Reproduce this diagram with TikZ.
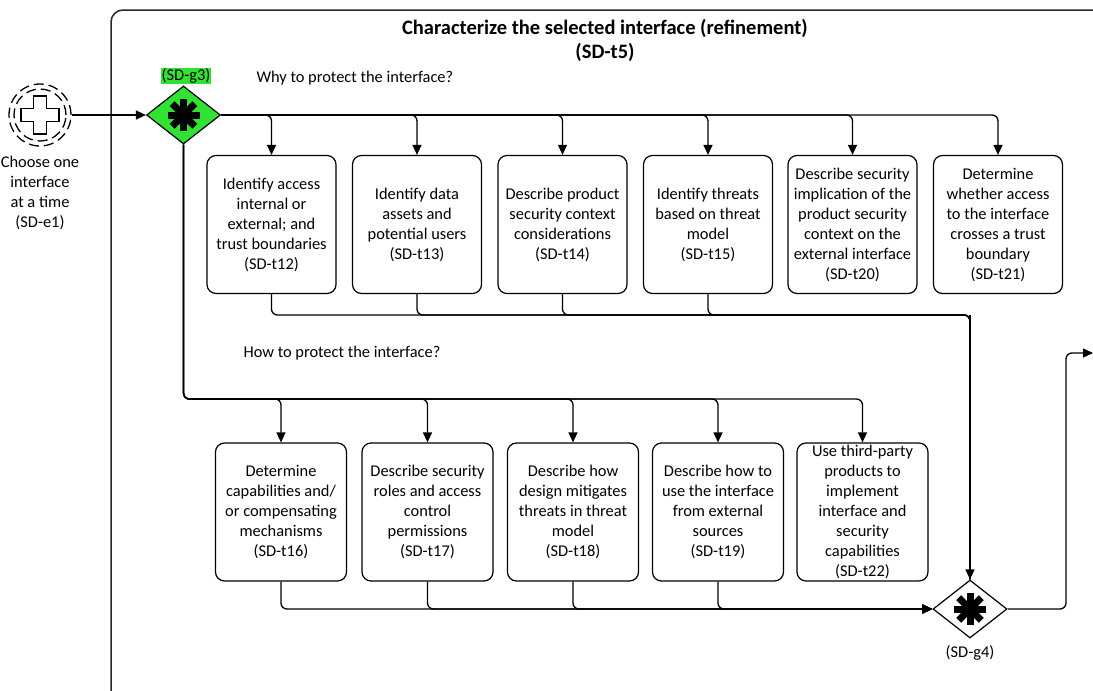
\documentclass[tikz,border=0pt]{standalone}
\usepackage{fontspec}
\setmainfont{Carlito}
\usetikzlibrary{arrows.meta,shapes.geometric,calc}
\definecolor{gwgreen}{RGB}{50,226,50}
\definecolor{frame}{RGB}{40,40,40}
\begin{document}
\begin{tikzpicture}[x=1pt,y=-1pt,
  txt/.style={font=\fontsize{16.4}{20}\selectfont},
  taskbox/.style={draw, line width=1.2pt, rounded corners=9pt, minimum width=129pt,
    minimum height=138pt, align=center, inner sep=0pt, txt},
  gateway/.style={draw, line width=1.2pt, diamond, minimum width=74pt, minimum height=58pt, inner sep=0pt},
  flow/.style={line width=1.3pt, rounded corners=6pt, -{Triangle[length=10pt,width=9pt]}},
  plainflow/.style={line width=1.3pt, rounded corners=6pt},
  evring/.style={dashed, dash pattern=on 10pt off 5pt, line width=1.3pt},
]
\clip (0,0) rectangle (1093,691);

% expanded sub-process frame
\draw[frame, line width=1.5pt, rounded corners=12pt] (111,10) rectangle (1104,702);
\node[font=\fontsize{20.5}{24}\bfseries\selectfont] (title) at (605,28) {Characterize the selected interface (refinement)};
\node[font=\fontsize{20.5}{24}\bfseries\selectfont] (titleid) at (605,52) {(SD-t5)};

% start event (non-interrupting)
\node[circle, draw, evring, minimum size=62pt, inner sep=0pt] (se) at (40,115) {};
\draw[evring] (se.center) circle (26pt);
\draw[line width=1.3pt, fill=white] ($(se.center)+(-6.5,-19)$) -- ++(13,0) -- ++(0,12.5) -- ++(12.5,0) -- ++(0,13)
  -- ++(-12.5,0) -- ++(0,12.5) -- ++(-13,0) -- ++(0,-12.5) -- ++(-12.5,0) -- ++(0,-13) -- ++(12.5,0) -- cycle;
\node[txt, align=center, anchor=north] (selbl) at (40,153) {Choose one\\interface\\at a time\\(SD-e1)};

% gateways
\node[gateway, fill=gwgreen] (g3) at (183.5,115) {};
\node[gateway, fill=white] (g4) at (970,609) {};
\foreach \g in {g3,g4}{
  \foreach \a in {0,45,90,135}
    \draw[line width=7pt] (\g.center) ++(\a:16) -- ++(\a+180:32);
}
\node[txt, fill=gwgreen, inner sep=1pt] (g3lbl) at (186,76) {(SD-g3)};
\node[txt] (g4lbl) at (970,653) {(SD-g4)};

% branch labels
\node[txt, anchor=base west] (why) at (253,82) {Why to protect the interface?};
\node[txt, anchor=base west] (how) at (240,357) {How to protect the interface?};

% upper row of tasks
\node[taskbox] (t12) at (271.5,224.5) {Identify access\\internal or\\external; and\\trust boundaries\\(SD-t12)};
\node[taskbox] (t13) at (417,224.5) {Identify data\\assets and\\potential users\\(SD-t13)};
\node[taskbox] (t14) at (562.5,224.5) {Describe product\\security context\\considerations\\(SD-t14)};
\node[taskbox] (t15) at (708,224.5) {Identify threats\\based on threat\\model\\(SD-t15)};
\node[taskbox] (t20) at (852.5,224.5) {Describe security\\implication of the\\product security\\context on the\\external interface\\(SD-t20)};
\node[taskbox] (t21) at (998,224.5) {Determine\\whether access\\to the interface\\crosses a trust\\boundary\\(SD-t21)};

% lower row of tasks
\node[taskbox, minimum width=131pt] (t16) at (281,512) {Determine\\capabilities and/\\or compensating\\mechanisms\\(SD-t16)};
\node[taskbox, minimum width=131pt] (t17) at (427.5,512) {Describe security\\roles and access\\control\\permissions\\(SD-t17)};
\node[taskbox, minimum width=131pt] (t18) at (573,512) {Describe how\\design mitigates\\threats in threat\\model\\(SD-t18)};
\node[taskbox, minimum width=131pt] (t19) at (718,512) {Describe how to\\use the interface\\from external\\sources\\(SD-t19)};
\node[taskbox, minimum width=131pt] (t22) at (862.5,512) {Use third-party\\products to\\implement\\interface and\\security\\capabilities\\(SD-t22)};

% routing points
\coordinate (hb) at (183.5,399);
\coordinate (jt) at (970,315);
\coordinate (out) at (1093,353);

% start -> gateway
\draw[flow] (se.east) -- (g3.west);

% upper fan-out
\foreach \t in {t12,t13,t14,t15,t20,t21}
  \draw[flow] (g3.east) -| (\t.north);

% lower fan-out
\foreach \t in {t16,t17,t18,t19,t22}
  \draw[flow] (g3.south) -- (hb) -| (\t.north);

% upper join
\foreach \t in {t12,t13,t14,t15}
  \draw[plainflow] (\t.south) |- (jt) -- (g4.north);
\draw[flow] (jt) -- (g4.north);

% lower join
\foreach \t in {t16,t17,t18,t19}
  \draw[flow] (\t.south) |- (g4.west);

% outgoing flow
\draw[flow] (g4.east) -| ([xshift=-27pt]out) -- (out);
\end{tikzpicture}
\end{document}
